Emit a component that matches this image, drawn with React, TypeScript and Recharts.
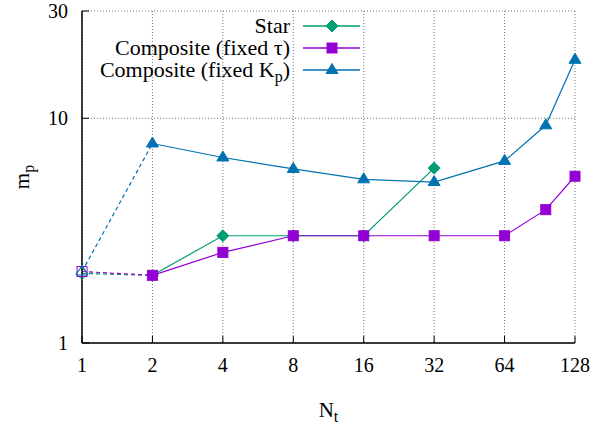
import React from "react";
import { LineChart, Line, XAxis, YAxis, CartesianGrid, Legend, Label } from "recharts";

// N_t values (96 sits between the 64 and 128 ticks)
const nt = [1, 2, 4, 8, 16, 32, 64, 96, 128];
const star = [2.04, 2.0, 3.0, 3.0, 3.0, 6.0, null, null, null];
const fixedTau = [2.08, 2.0, 2.53, 3.0, 3.0, 3.0, 3.0, 3.92, 5.52];
const fixedKp = [2.08, 7.72, 6.69, 5.95, 5.35, 5.2, 6.46, 9.3, 18.2];

const xTicks = [1, 2, 4, 8, 16, 32, 64, 128];
const yTicks = [1, 10, 30];

const FONT = "'Liberation Serif', 'DejaVu Serif', serif";

type Shape = "diamond" | "square" | "triangle";

const series = [
	{ key: "star", label: <>Star</>, values: star, color: "#009e73", shape: "diamond" as Shape },
	{ key: "tau", label: <>Composite (fixed τ)</>, values: fixedTau, color: "#9400d3", shape: "square" as Shape },
	{
		key: "kp",
		label: (
			<>
				Composite (fixed K
				<span style={{ fontSize: 16, verticalAlign: -5, lineHeight: "10px" }}>p</span>)
			</>
		),
		values: fixedKp,
		color: "#0072b2",
		shape: "triangle" as Shape,
	},
];

// first segment (1 -> 2) is dashed with an open marker at N_t = 1
const chartData = nt.map((n, i) => {
	const row: Record<string, number | null> = { nt: n };
	series.forEach((s) => {
		row[s.key + "Dash"] = i <= 1 ? s.values[i] : null;
		row[s.key] = i >= 1 ? s.values[i] : null;
	});
	return row;
});

function Marker({ shape, cx, cy, color, hollow }: { shape: Shape; cx: number; cy: number; color: string; hollow?: boolean }) {
	const fill = hollow ? "none" : color;
	if (shape === "diamond") {
		return (
			<polygon
				points={`${cx},${cy - 6} ${cx + 6},${cy} ${cx},${cy + 6} ${cx - 6},${cy}`}
				fill={fill}
				stroke={color}
				strokeWidth={1}
			/>
		);
	}
	if (shape === "square") {
		return <rect x={cx - 5} y={cy - 5} width={10} height={10} fill={fill} stroke={color} strokeWidth={1} />;
	}
	return (
		<polygon
			points={`${cx},${cy - 6.5} ${cx + 6},${cy + 3.5} ${cx - 6},${cy + 3.5}`}
			fill={fill}
			stroke={color}
			strokeWidth={1}
		/>
	);
}

const makeDot = (shape: Shape, color: string, hollow: boolean) => (props: any) => {
	const { cx, cy, index, value } = props;
	if (cx == null || cy == null || value == null || (hollow && index !== 0)) {
		return <g key={`d-${index}`} />;
	}
	return (
		<g key={`d-${index}`}>
			<Marker shape={shape} cx={cx} cy={cy} color={color} hollow={hollow} />
		</g>
	);
};

const BottomTick = (props: any) => {
	const { x, y, payload } = props;
	return (
		<g>
			<line x1={x} x2={x} y1={y} y2={y - 7} stroke="#000" strokeWidth={1} />
			<text x={x} y={y + 29} textAnchor="middle" fontSize={20} fontFamily={FONT} fill="#000">
				{payload.value}
			</text>
		</g>
	);
};

const TopTick = (props: any) => {
	const { x, y } = props;
	return <line x1={x} x2={x} y1={y} y2={y + 7} stroke="#000" strokeWidth={1} />;
};

const LeftTick = (props: any) => {
	const { x, y, payload } = props;
	return (
		<g>
			<line x1={x} x2={x + 7} y1={y} y2={y} stroke="#000" strokeWidth={1} />
			<text x={x - 14} y={y + 7} textAnchor="end" fontSize={20} fontFamily={FONT} fill="#000">
				{payload.value}
			</text>
		</g>
	);
};

const RightTick = (props: any) => {
	const { x, y } = props;
	return <line x1={x} x2={x - 7} y1={y} y2={y} stroke="#000" strokeWidth={1} />;
};

const XTitle = (props: any) => {
	const vb = props.viewBox;
	return (
		<text x={vb.x + vb.width / 2} y={vb.y + 74} textAnchor="middle" fontSize={21} fontFamily={FONT} fill="#000">
			N
			<tspan fontSize={16} dy={5}>
				t
			</tspan>
		</text>
	);
};

const YTitle = (props: any) => {
	const vb = props.viewBox;
	const cx = vb.x + 29;
	const cy = vb.y + vb.height / 2;
	return (
		<text
			x={cx}
			y={cy}
			transform={`rotate(-90, ${cx}, ${cy})`}
			textAnchor="middle"
			fontSize={21}
			fontFamily={FONT}
			fill="#000"
		>
			m
			<tspan fontSize={16} dy={5}>
				p
			</tspan>
		</text>
	);
};

const KeyBox = () => (
	<div style={{ fontFamily: FONT, fontSize: 22, color: "#000" }}>
		{series.map((s) => (
			<div key={s.key} style={{ display: "flex", alignItems: "center", height: 22 }}>
				<span style={{ width: 200, flexShrink: 0, textAlign: "right", lineHeight: "22px", whiteSpace: "nowrap" }}>
					{s.label}
				</span>
				<svg width={57} height={22} style={{ marginLeft: 13, flexShrink: 0, overflow: "visible" }}>
					<line x1={0} x2={57} y1={11} y2={11} stroke={s.color} strokeWidth={1.3} />
					<Marker shape={s.shape} cx={29} cy={11} color={s.color} />
				</svg>
			</div>
		))}
	</div>
);

export default function App() {
	return (
		<div style={{ position: "absolute", left: 0, top: 0, width: 612, height: 430, background: "#fff" }}>
			<LineChart
				width={612}
				height={430}
				data={chartData}
				margin={{ top: 11, right: 37, bottom: 0, left: 0 }}
				style={{ fontFamily: FONT }}
			>
				<CartesianGrid stroke="#777" strokeDasharray="1 2" strokeWidth={1} />
				<XAxis
					dataKey="nt"
					type="number"
					scale="log"
					domain={[1, 128]}
					ticks={xTicks}
					interval={0}
					height={87}
					tickSize={0}
					tickMargin={0}
					tickLine={false}
					tick={BottomTick}
					axisLine={{ stroke: "#000", strokeWidth: 1.5 }}
				>
					<Label content={XTitle} />
				</XAxis>
				<XAxis
					xAxisId="top"
					orientation="top"
					dataKey="nt"
					type="number"
					scale="log"
					domain={[1, 128]}
					ticks={xTicks}
					interval={0}
					height={0}
					tickSize={0}
					tickMargin={0}
					tickLine={false}
					tick={TopTick}
					axisLine={{ stroke: "#000", strokeWidth: 1.5 }}
				/>
				<YAxis
					type="number"
					scale="log"
					domain={[1, 30]}
					ticks={yTicks}
					interval={0}
					width={82}
					tickSize={0}
					tickMargin={0}
					tickLine={false}
					tick={LeftTick}
					axisLine={{ stroke: "#000", strokeWidth: 1.5 }}
				>
					<Label content={YTitle} />
				</YAxis>
				<YAxis
					yAxisId="right"
					orientation="right"
					type="number"
					scale="log"
					domain={[1, 30]}
					ticks={yTicks}
					interval={0}
					width={0}
					tickSize={0}
					tickMargin={0}
					tickLine={false}
					tick={RightTick}
					axisLine={{ stroke: "#000", strokeWidth: 1.5 }}
				/>
				<Legend
					layout="vertical"
					align="center"
					verticalAlign="middle"
					content={KeyBox}
					wrapperStyle={{ top: 15, left: 90, width: 280, height: 66 }}
				/>
				{series.map((s) => [
					<Line
						key={s.key + "Dash"}
						dataKey={s.key + "Dash"}
						stroke={s.color}
						strokeWidth={1.2}
						strokeDasharray="4 3"
						dot={makeDot(s.shape, s.color, true)}
						activeDot={false}
						legendType="none"
						isAnimationActive={false}
					/>,
					<Line
						key={s.key}
						dataKey={s.key}
						stroke={s.color}
						strokeWidth={1.2}
						dot={makeDot(s.shape, s.color, false)}
						activeDot={false}
						isAnimationActive={false}
					/>,
				])}
			</LineChart>
		</div>
	);
}
